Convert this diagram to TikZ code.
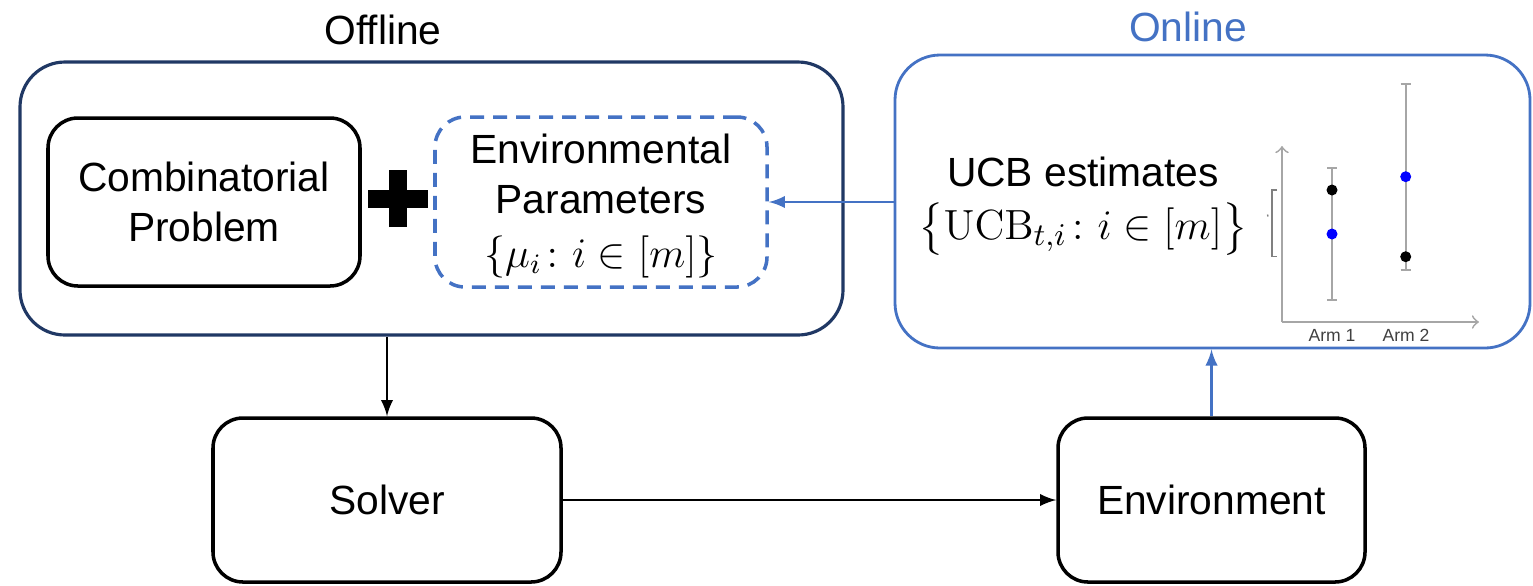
\documentclass[tikz,border=0pt]{standalone}
\usepackage{amsmath,amssymb}
\usepackage[no-math]{fontspec}
\setmainfont{Liberation Sans}
\usepackage{tikz}
\usetikzlibrary{arrows}

\definecolor{offblue}{HTML}{4472C4}
\definecolor{navy}{HTML}{203864}
\definecolor{axisgray}{HTML}{A6A6A6}

\newcommand{\mainfont}{\fontsize{11.6}{14.2}\selectfont}

\begin{document}
\begin{tikzpicture}[
    box/.style={draw, line width=1pt, rounded corners=0.3cm, align=center,
                font=\mainfont, inner sep=0pt},
    title/.style={font=\mainfont},
    flow/.style={-latex, line width=0.6pt},
    bar/.style={draw=axisgray, line width=0.5pt},
    dot/.style={circle, inner sep=0pt, minimum size=0.11cm}]
  \useasboundingbox (0,0) rectangle (15.33,-5.85);

  % titles
  \node[title] (offtitle) at (3.83,-0.30) {Offline};
  \node[title, text=offblue] (ontitle) at (11.88,-0.27) {Online};

  % offline part
  \node[box, draw=navy, line width=0.9pt, rounded corners=0.45cm,
        minimum width=8.23cm, minimum height=2.73cm] (offline) at (4.315,-1.985) {};
  \node[box, minimum width=3.12cm, minimum height=1.68cm] (comb) at (2.04,-2.02)
    {Combinatorial\\Problem};
  \node[box, draw=offblue, dashed, dash pattern=on 0.14cm off 0.09cm,
        minimum width=3.32cm, minimum height=1.70cm] (params) at (6.01,-2.02) {};
  \node[align=center, font=\mainfont] (paramtext) at (6.01,-2.06)
    {Environmental\\Parameters\\[1pt]$\{\mu_i\colon i\in[m]\}$};
  \coordinate (plus) at (3.98,-1.985);
  \draw[line width=0.18cm] ([xshift=-0.30cm]plus) -- ([xshift=0.30cm]plus);
  \draw[line width=0.18cm] ([yshift=-0.285cm]plus) -- ([yshift=0.285cm]plus);

  % online part
  \node[box, draw=offblue, line width=0.8pt, rounded corners=0.45cm,
        minimum width=6.35cm, minimum height=2.93cm] (online) at (12.125,-2.015) {};
  \node[align=center, font=\mainfont] (ucb) at (10.83,-2.06)
    {UCB estimates\\[1pt]{\fontsize{12.5}{14}\selectfont$\bigl\{\mathrm{UCB}_{t,i}\colon i\in[m]\bigr\}$}};

  % confidence bounds of the two arms
  \coordinate (origin) at (12.82,-3.22);
  \draw[bar, ->, >=to] (origin) -- (12.82,-1.46);
  \draw[bar, ->, >=to] (origin) -- (14.79,-3.22);
  \draw[bar] (13.32,-1.68) -- (13.32,-3.00);
  \draw[bar] (13.27,-1.68) -- (13.37,-1.68);
  \draw[bar] (13.27,-3.00) -- (13.37,-3.00);
  \draw[bar] (14.057,-0.84) -- (14.057,-2.70);
  \draw[bar] (14.007,-0.84) -- (14.107,-0.84);
  \draw[bar] (14.007,-2.70) -- (14.107,-2.70);
  \draw[draw=gray, line width=0.4pt] (12.77,-1.90) -- (12.72,-1.90)
    -- (12.72,-2.567) -- (12.77,-2.567);
  \draw[gray, line width=0.4pt] (12.675,-2.145) -- (12.68,-2.165);
  \node[dot, fill=black] (arm1hi) at (13.32,-1.90) {};
  \node[dot, fill=blue] (arm1lo) at (13.32,-2.34) {};
  \node[dot, fill=blue] (arm2hi) at (14.057,-1.767) {};
  \node[dot, fill=black] (arm2lo) at (14.057,-2.567) {};
  \node[font=\fontsize{5}{6}\selectfont, text=black!75] (arm1) at (13.32,-3.35) {Arm 1};
  \node[font=\fontsize{5}{6}\selectfont, text=black!75] (arm2) at (14.06,-3.35) {Arm 2};

  % bottom row
  \node[box, minimum width=3.48cm, minimum height=1.64cm] (solver) at (3.87,-5.00) {Solver};
  \node[box, minimum width=3.07cm, minimum height=1.64cm] (envbox) at (12.115,-5.00) {Environment};

  % connectors
  \draw[flow] (solver.north |- offline.south) -- (solver.north);
  \draw[flow] (solver.east) -- (envbox.west);
  \draw[flow, draw=offblue, fill=offblue] (envbox.north) -- (envbox.north |- online.south);
  \draw[flow, draw=offblue, fill=offblue] (online.west |- params.east) -- (params.east);
\end{tikzpicture}
\end{document}
